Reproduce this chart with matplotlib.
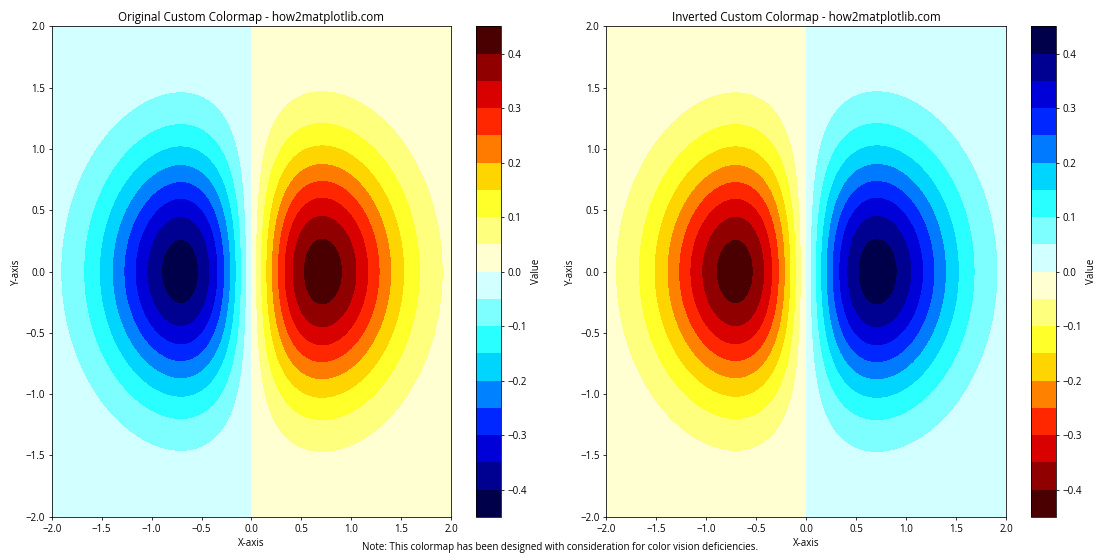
import numpy as np
import matplotlib
matplotlib.use('Agg')
import matplotlib.pyplot as plt
from matplotlib.colors import LinearSegmentedColormap

plt.rcParams['font.family'] = ['Open Sans', 'DejaVu Sans']

# Grid and field: Z = X * exp(-X^2 - Y^2)
x_vals = np.linspace(-2, 2, 100)
y_vals = np.linspace(-2, 2, 100)
X, Y = np.meshgrid(x_vals, y_vals)
Z = X * np.exp(-X**2 - Y**2)

# Custom diverging colormap anchors
cmap_colors = [(0, 0, 0.15), (0, 0, 1), (0, 1, 1), (1, 1, 1),
               (1, 1, 0), (1, 0, 0), (0.15, 0, 0)]
cmap = LinearSegmentedColormap.from_list('custom', cmap_colors)
cmap_r = cmap.reversed()

titles = ['Original Custom Colormap - how2matplotlib.com',
          'Inverted Custom Colormap - how2matplotlib.com']
note = 'Note: This colormap has been designed with consideration for color vision deficiencies.'

fig, axes = plt.subplots(1, 2, figsize=(16, 8), dpi=70)

for ax, cm, title in zip(axes, [cmap, cmap_r], titles):
    cs = ax.contourf(X, Y, Z, levels=20, cmap=cm)
    cb = fig.colorbar(cs, ax=ax)
    cb.set_label('Value')
    ax.set_title(title, fontsize=12)
    ax.set_xlabel('X-axis')
    ax.set_ylabel('Y-axis')

plt.tight_layout()
fig.text(0.5, 0.017, note, ha='center', fontsize=10)

plt.savefig('out.png', dpi=70)
